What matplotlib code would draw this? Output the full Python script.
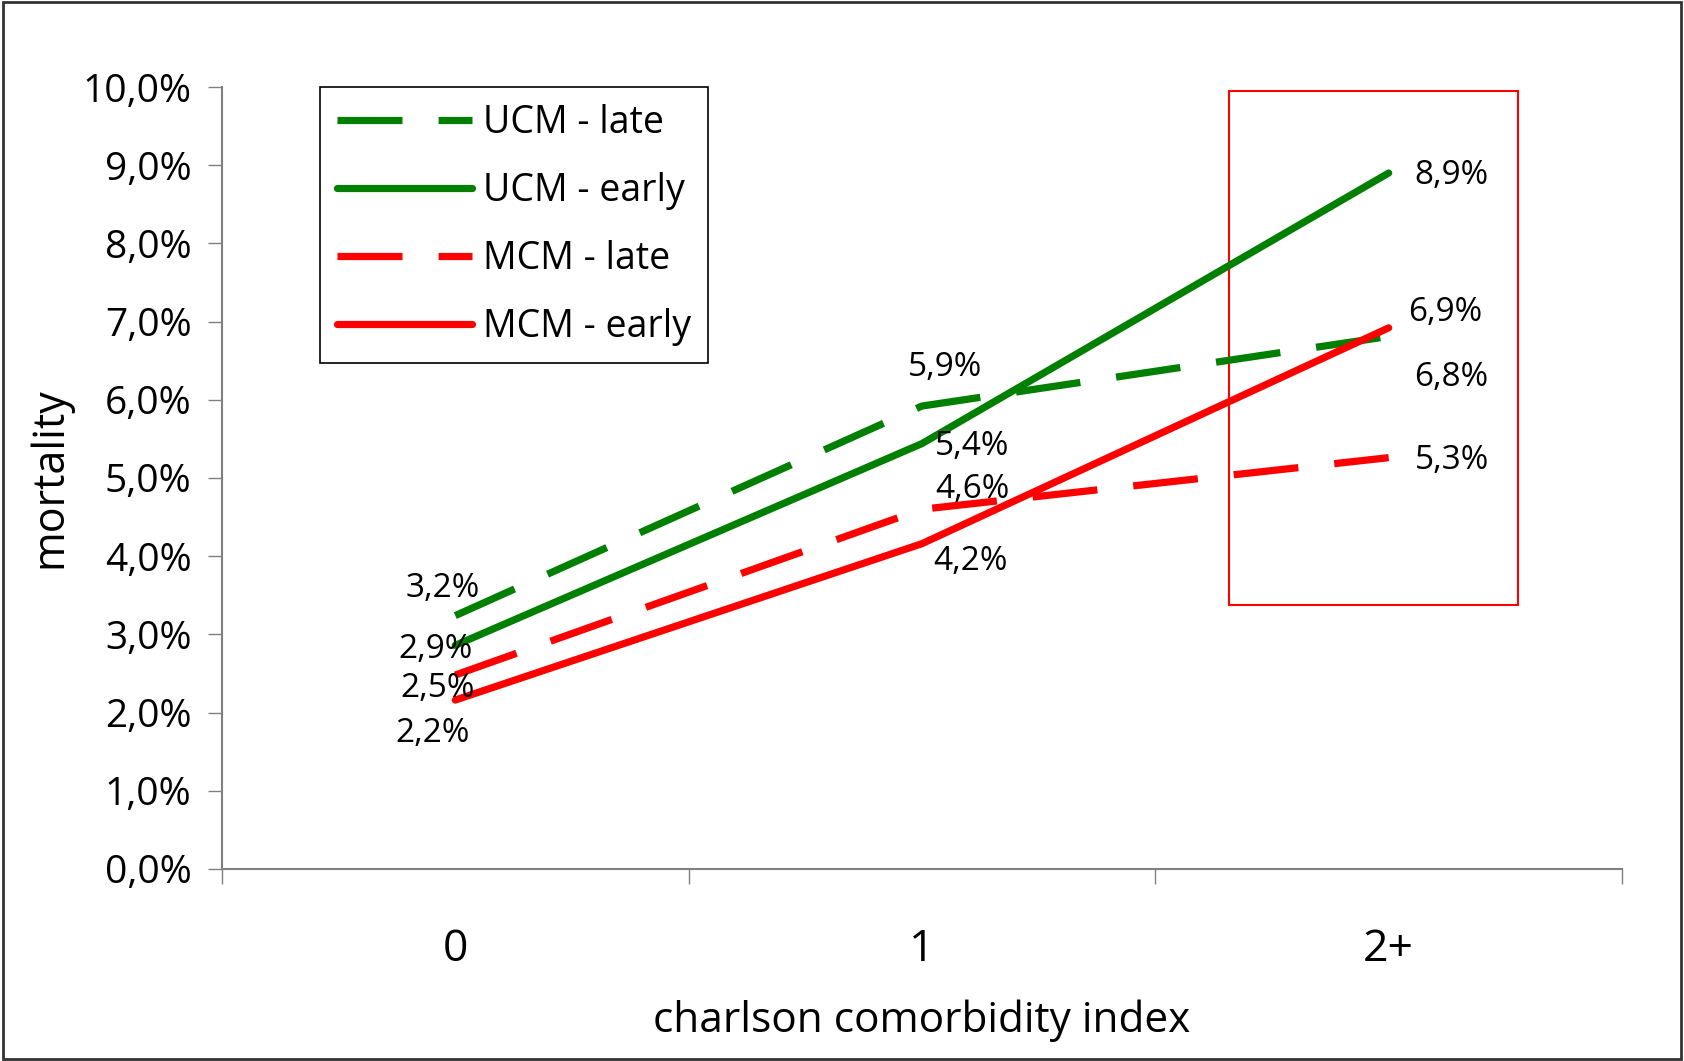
import matplotlib.pyplot as plt
from matplotlib.patches import Rectangle

# data
categories = ["0", "1", "2+"]
ucm_late = [3.24, 5.92, 6.81]
ucm_early = [2.86, 5.44, 8.90]
mcm_late = [2.48, 4.60, 5.26]
mcm_early = [2.16, 4.16, 6.92]
series_names = ["UCM - late", "UCM - early", "MCM - late", "MCM - early"]
y_ticks = [0, 1, 2, 3, 4, 5, 6, 7, 8, 9, 10]

plt.rcParams['font.family'] = ['Open Sans', 'DejaVu Sans']

green = "#007F00"
red = "#FF0000"

fig = plt.figure(figsize=(16.84, 10.61), dpi=100)
ax = fig.add_axes([0.1318, 0.181, 0.8314, 0.737])

xpos = [i + 0.5 for i in range(len(categories))]
series = [ucm_late, ucm_early, mcm_late, mcm_early]
colors = [green, green, red, red]
dashed = [True, False, True, False]

for vals, name, color, d in zip(series, series_names, colors, dashed):
    if d:
        ax.plot(xpos, vals, color=color, linewidth=5.2, label=name,
                linestyle=(0, (9, 5)), dash_capstyle='butt')
    else:
        ax.plot(xpos, vals, color=color, linewidth=5.2, label=name,
                solid_capstyle='round', solid_joinstyle='miter')

# label offsets in pixels (dx, dy up)
offsets = [
    [(-13, 27), (23, 39), (63, -41)],
    [(-20, -4), (50, -3), (63, -2)],
    [(-18, -13), (50, 20), (63, -3)],
    [(-23, -33), (48, -18), (57, 15)],
]
for vals, offs in zip(series, offsets):
    for x, v, (dx, dy) in zip(xpos, vals, offs):
        ax.annotate(("%.1f%%" % v).replace(".", ","), (x, v),
                    xytext=(dx * 0.72, dy * 0.72), textcoords='offset points',
                    ha='center', va='center', fontsize=24)

ax.set_xlim(0, 3)
ax.set_ylim(0, 10)
ax.set_yticks(y_ticks)
ax.set_yticklabels([("%.1f%%" % t).replace(".", ",") for t in y_ticks], fontsize=28)
ax.set_xticks([0, 1, 2, 3])
ax.set_xticklabels([])
ax.set_xticks(xpos, minor=True)
ax.set_xticklabels(categories, minor=True, fontsize=32)
ax.tick_params(axis='x', which='minor', length=0, pad=42)
ax.tick_params(axis='x', which='major', length=11, width=1, color='#808080', direction='out')
ax.tick_params(axis='y', length=10, width=1, color='#808080', direction='out', pad=12)

for s in ['top', 'right']:
    ax.spines[s].set_visible(False)
for s in ['left', 'bottom']:
    ax.spines[s].set_color('#808080')
    ax.spines[s].set_linewidth(1.5)

ax.set_xlabel("charlson comorbidity index", fontsize=30.5, labelpad=20)
ax.set_ylabel("mortality", fontsize=31, labelpad=7)

leg = ax.legend(loc='upper left', bbox_to_anchor=(0.07, 1.0), borderaxespad=0,
                fontsize=27, handlelength=3.6, handletextpad=0.3,
                labelspacing=0.8, fancybox=False, edgecolor='black',
                borderpad=0.45, framealpha=1)
leg.get_frame().set_linewidth(1.2)

# red highlight box around the last category
ax.add_patch(Rectangle((2.158, 3.38), 0.619, 6.57, fill=False,
                       edgecolor=red, linewidth=1.5))

# outer chart border
fig.add_artist(Rectangle((0.002, 0.002), 0.996, 0.996, transform=fig.transFigure,
                         fill=False, edgecolor='#333333', linewidth=2))

plt.savefig("out.png", dpi=100)
